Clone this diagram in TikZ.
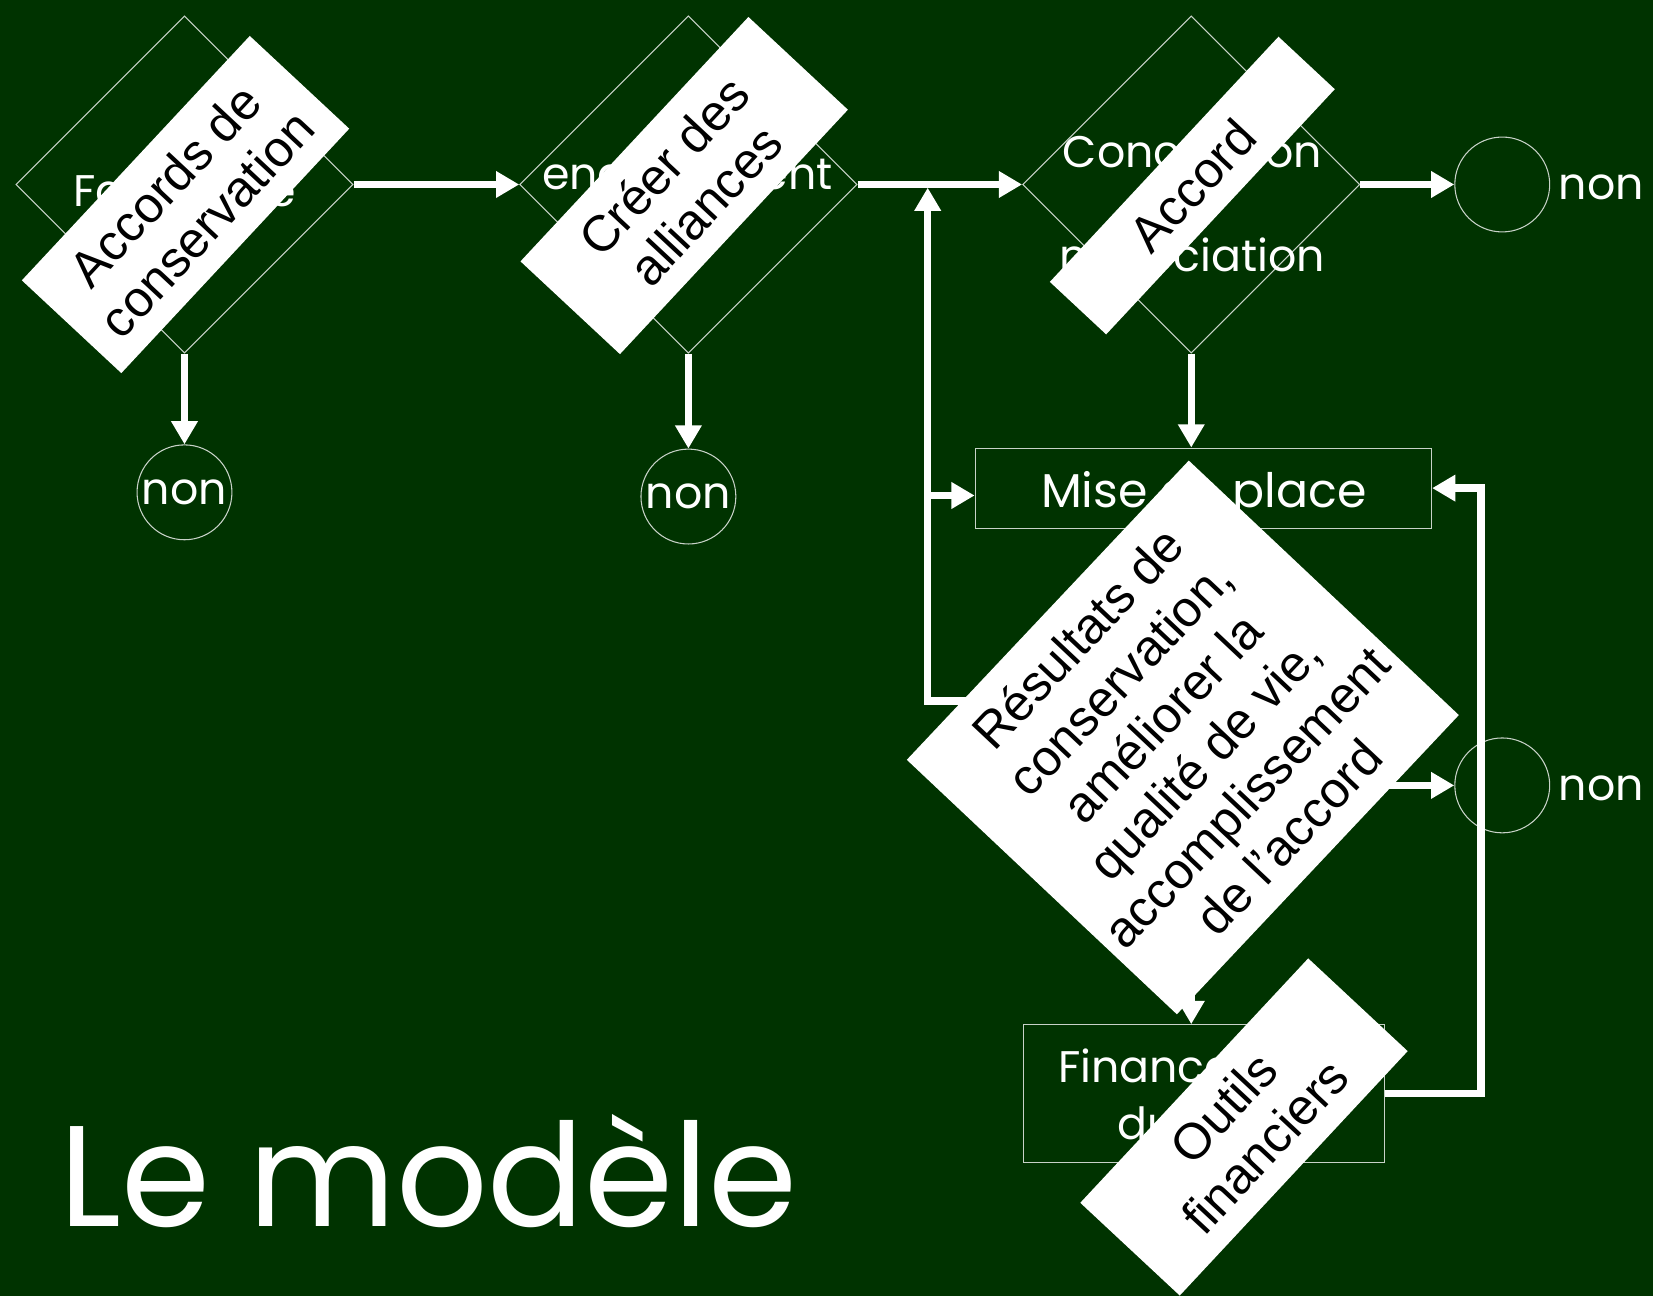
\documentclass[tikz,border=0pt]{standalone}
\usepackage{fontspec}
\usetikzlibrary{shapes.geometric,arrows.meta}
\newfontfamily\slidefont{Poppins}
\newfontfamily\boxfont{Liberation Sans}
\definecolor{slidegreen}{RGB}{0,51,0}
\definecolor{edgegray}{RGB}{200,210,200}
\tikzset{
  stepdiam/.style={diamond,draw=edgegray,line width=1pt,inner sep=0pt,minimum width=320pt,minimum height=320pt},
  stepbox/.style={rectangle,draw=edgegray,line width=1pt,inner sep=0pt},
  steptxt/.style={text=white,font=\slidefont\fontsize{42}{54}\selectfont,inner sep=0pt,align=center},
  nonc/.style={circle,draw=edgegray,line width=1pt,minimum size=90pt,inner sep=0pt,text=white,font=\slidefont\fontsize{42}{50}\selectfont},
  flow/.style={draw=white,line width=7pt,-{Triangle[length=22pt,width=24pt]}},
  tag/.style={fill=white,text=black,rotate=47,inner sep=0pt,minimum width=317pt,minimum height=129pt,align=center,font=\boxfont\fontsize{48}{54}\selectfont}
}
\begin{document}
\begin{tikzpicture}[x=1pt,y=-1pt]
      \useasboundingbox (0,0) rectangle (1568,1229);
      \fill[slidegreen] (0,0) rectangle (1568,1229);
      \draw
        (175,175) node[stepdiam] (faisab){}
        (653,175) node[stepdiam] (engag){}
        (1130,175) node[stepdiam] (concep){}
        (1141.5,463) node[stepbox,minimum width=433pt,minimum height=76pt] (mise){}
        (1142,1037.5) node[stepbox,minimum width=342pt,minimum height=131pt] (finan){}
        (175,467) node[nonc] (non1){non}
        (653,471) node[nonc] (non2){non}
        (1425,175) node[nonc,label={[steptxt,label distance=8pt,yshift=-3pt]right:non}] (non3){}
        (1425,745) node[nonc,label={[steptxt,label distance=8pt,yshift=-3pt]right:non}] (non4){};
      \draw
        (175,196) node[steptxt,anchor=base] (faisabT){Faisabilité}
        (652,180) node[steptxt,anchor=base] (engagT){engagement}
        (1131,198) node[steptxt,font=\slidefont\fontsize{42}{98}\selectfont] (concepT){Conception\\négociation}
        (1142,481) node[steptxt,anchor=base,font=\slidefont\fontsize{45}{54}\selectfont] (miseT){Mise en place}
        (1142,1038) node[steptxt] (finanT){Financement\\durable};
      \coordinate (junct) at (880,178);
      \coordinate (branch) at (880,470);
      \coordinate (loopL) at (960,665);
      \coordinate (outR) at (1290,745);
      \coordinate (loopR) at (1405,750);
      \begin{scope}[flow]
        \draw (faisab) to (engag);
        \draw (engag) to (concep);
        \draw (concep) to (non3);
        \draw (faisab) to (non1);
        \draw (engag) to (non2);
        \draw (concep.south) to (concep.south |- mise.north);
        \draw (concep.south |- mise.south) to (concep.south |- finan.north);
        \draw (loopL) -| (junct);
        \draw (branch) to (branch -| mise.west);
        \draw (outR) to (non4);
        \draw (finan.east) -| (loopR) |- (mise.east);
      \end{scope}
      \draw
        (176,194) node[tag] (accords){Accords de\\conservation}
        (649,176) node[tag] (alliances){Créer des\\alliances}
        (1131,176) node[tag,minimum width=318pt,minimum height=73pt] (accord){Accord}
        (1180,1069) node[tag] (outils){Outils\\financiers}
        (1122,699.5) node[tag,rotate=-0.3,minimum width=390pt,minimum height=352pt,font=\boxfont\fontsize{48}{55}\selectfont] (result){Résultats de\\conservation,\\améliorer la\\qualité de vie,\\accomplissement\\de l’accord};
      \node[anchor=base west,inner sep=0pt,text=white,font=\slidefont\fontsize{136}{140}\selectfont] (title) at (56,1163) {Le modèle};
    \end{tikzpicture}
\end{document}
